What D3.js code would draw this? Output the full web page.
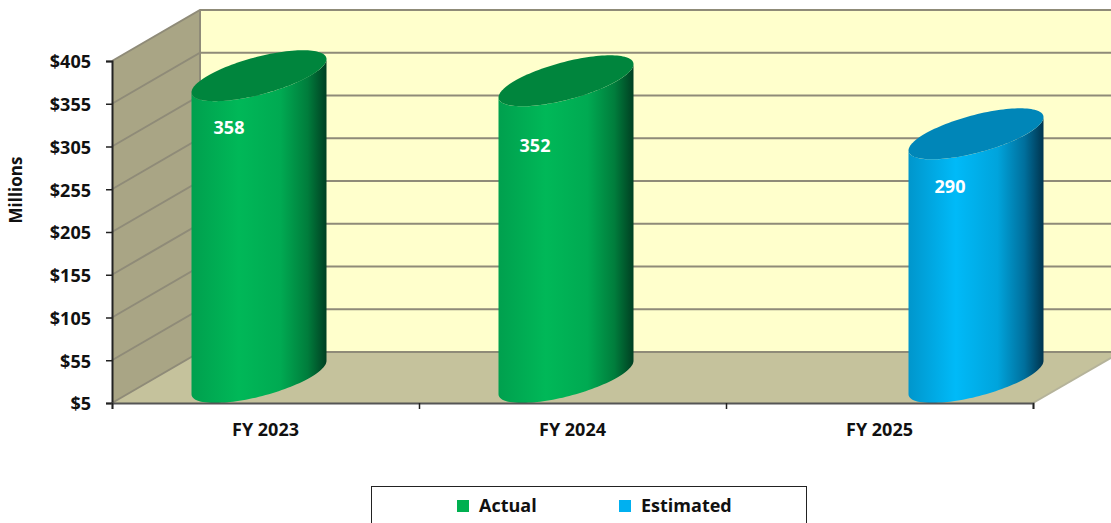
<!DOCTYPE html>
<html><head><meta charset="utf-8">
<script src="https://cdn.jsdelivr.net/npm/d3@7"></script>
<style>html,body{margin:0;padding:0;background:#fff;overflow:hidden}svg{display:block}
text{font-family:"Open Sans",sans-serif;font-weight:700;fill:#111}</style></head><body>
<script>
const categories = ["FY 2023","FY 2024","FY 2025"];
const seriesNames = ["Actual","Estimated"];
const actual = [358,352,null];
const estimated = [null,null,290];
const tickValues = [5,55,105,155,205,255,305,355,405];
const axisTitle = "Millions";
const palette = {Actual:{body:["#00a04e","#00b858","#00aa52","#007d3c","#003f22"],top:"#00853d",swatch:"#00b050"},
                 Estimated:{body:["#0096cc","#00baf8","#00a4dc","#006f9c","#00344e"],top:"#0086b8",swatch:"#00b0f0"}};

const W=1111,H=523,depthX=88,depthY=51,fs=18;
const m={left:112,right:1033,bottom:403,top:61};
const svg=d3.select("body").append("svg").attr("width",W).attr("height",H);
const x=d3.scaleBand().domain(categories).range([m.left,m.right]);
const y=d3.scaleLinear().domain([5,405]).range([m.bottom,m.top]);
const xS=d3.scaleBand().domain(seriesNames).range([-102,104]);
const defs=svg.append("defs");
seriesNames.forEach(s=>{
  const g=defs.append("linearGradient").attr("id","g"+s);
  [[0,0],[.35,1],[.66,2],[.86,3],[1,4]].forEach(([o,i])=>g.append("stop").attr("offset",o).attr("stop-color",palette[s].body[i]));
});
const poly=p=>p.map(d=>d.join(",")).join(" ");
// back wall, side wall, floor
svg.append("polygon").attr("points",poly([[m.left+depthX,y(405)-depthY],[W,y(405)-depthY],[W,y(5)-depthY],[m.left+depthX,y(5)-depthY]])).attr("fill","#ffffcc");
svg.append("polygon").attr("points",poly([[m.left,y(405)],[m.left+depthX,y(405)-depthY],[m.left+depthX,y(5)-depthY],[m.left,y(5)]])).attr("fill","#a9a585");
svg.append("polygon").attr("points",poly([[m.left,y(5)],[m.left+depthX,y(5)-depthY],[m.right+depthX,y(5)-depthY],[m.right,y(5)]])).attr("fill","#c5c29c");
// gridlines
const grid=svg.append("g").attr("stroke","#8f8b78").attr("stroke-width",2).attr("fill","none");
tickValues.forEach(v=>{
  grid.append("polyline").attr("points",poly([[m.left,y(v)],[m.left+depthX,y(v)-depthY],[W+10,y(v)-depthY]]));
});
grid.append("line").attr("x1",m.left+depthX).attr("x2",m.left+depthX).attr("y1",y(405)-depthY).attr("y2",y(5)-depthY);
grid.append("line").attr("x1",m.right).attr("y1",y(5)).attr("x2",m.right+depthX).attr("y2",y(5)-depthY).attr("stroke","#b5b39a");
// cylinders
const k=0.5,Bx=depthX*k,By=depthY*k,A=Math.sqrt(67.5*67.5-Bx*Bx),t0=Math.atan2(Bx,A);
const ell=(cx,cy,t)=>[cx+A*Math.cos(t)+Bx*Math.sin(t),cy-By*Math.sin(t)];
const line=d3.line();
const rows=[];
seriesNames.forEach((s,si)=>{(si?estimated:actual).forEach((v,i)=>{if(v!=null)rows.push({s,v,c:categories[i]});});});
const labelNudge={"FY 2023":[-30,27],"FY 2024":[-31,39],"FY 2025":[-26,27]};
rows.forEach(d=>{
  const cx=x(d.c)+x.bandwidth()/2+depthX*k+xS(d.s)+xS.bandwidth()/2;
  const cyB=y(5)-By, cyT=y(d.v)-By;
  const frontB=d3.range(0,65).map(i=>ell(cx,cyB,t0+Math.PI+i/64*Math.PI));
  const frontT=d3.range(0,65).map(i=>ell(cx,cyT,t0+2*Math.PI-i/64*Math.PI));
  svg.append("path").attr("d",line(frontB.concat(frontT))+"Z").attr("fill",`url(#g${d.s})`);
  svg.append("path").attr("d",line(d3.range(0,129).map(i=>ell(cx,cyT,i/128*2*Math.PI)))+"Z").attr("fill",palette[d.s].top);
  const n=labelNudge[d.c];
  svg.append("text").attr("x",cx+n[0]).attr("y",y(d.v)+n[1]).attr("text-anchor","middle").attr("dy","0.35em")
    .attr("font-size",fs).style("fill","#fff").text(d.v);
});
// axes
const yAxis=d3.axisLeft(y).tickValues(tickValues).tickSize(6).tickPadding(15).tickFormat(v=>"$"+v);
const gy=svg.append("g").attr("transform",`translate(${m.left},0)`).call(yAxis);
const xTickScale=d3.scaleLinear().domain([0,3]).range([m.left,m.right]);
const gx=svg.append("g").attr("transform",`translate(0,${m.bottom})`).call(
  d3.axisBottom(xTickScale).tickValues([0,1,2,3]).tickSize(6).tickFormat(""));
[gy,gx].forEach(g=>{g.selectAll("path,line").attr("stroke","#222").attr("stroke-width",1.5);});
gy.select("path").attr("stroke-width",2);
gx.select("path").attr("stroke","#555").attr("stroke-width",2);
gy.selectAll("text").attr("font-size",fs).style("fill","#111").attr("transform","translate(0,1)");
gy.attr("font-family",null);gx.attr("font-family",null);
svg.selectAll(".cat").data(categories).join("text").attr("class","cat")
  .attr("x",c=>x(c)+x.bandwidth()/2).attr("y",430).attr("dy","0.35em").attr("text-anchor","middle").attr("font-size",fs).text(c=>c);
svg.append("text").attr("transform","translate(16,190) rotate(-90)").attr("text-anchor","middle").attr("dy","0.35em").attr("font-size",fs-1).text(axisTitle);
// legend
svg.append("rect").attr("x",371.5).attr("y",486.5).attr("width",435).attr("height",60).attr("fill","#fff").attr("stroke","#222");
const legendX=d3.scalePoint().domain(seriesNames).range([457,619]);
seriesNames.forEach(s=>{
  svg.append("rect").attr("x",legendX(s)).attr("y",500).attr("width",12).attr("height",12).attr("fill",palette[s].swatch);
  svg.append("text").attr("x",legendX(s)+22).attr("y",506).attr("dy","0.35em").attr("font-size",fs).text(s);
});
</script></body></html>
